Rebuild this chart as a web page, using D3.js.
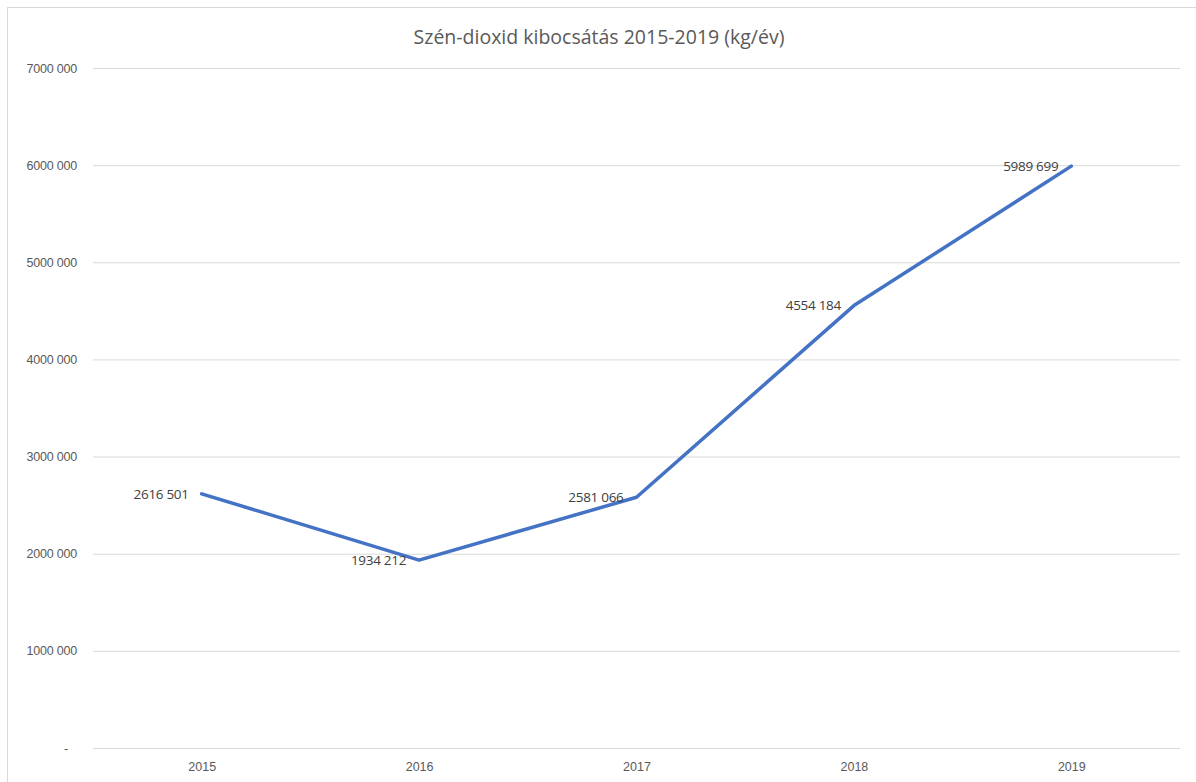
<!DOCTYPE html>
<html><head><meta charset="utf-8">
<script src="https://cdn.jsdelivr.net/npm/d3@7/dist/d3.min.js"></script>
<style>body{margin:0;background:#fff;} svg{display:block;font-family:"Open Sans",sans-serif;}</style>
</head><body>
<svg id="c" width="1196" height="782"></svg>
<script>
const years = ["2015","2016","2017","2018","2019"];
const emissions = [2616501, 1934212, 2581066, 4554184, 5989699];
const yTicks = [0,1000000,2000000,3000000,4000000,5000000,6000000,7000000];
const titleText = "Szén-dioxid kibocsátás 2015-2019 (kg/év)";

const svg = d3.select("#c");
const W=1196,H=782;
const m={l:93,r:1180,t:68,b:748};
svg.append("rect").attr("x",7.5).attr("y",7.5).attr("width",W).attr("height",H).attr("fill","#fff").attr("stroke","#d9d9d9");
const x=d3.scalePoint().domain(years).range([m.l,m.r]).padding(0.5);
const y=d3.scaleLinear().domain([0,7000000]).range([m.b,m.t]);
const fmtLab=v=>{const s=d3.format(",")(v).split(",");return s[0]+s[1]+" "+s[2];};

const ya=svg.append("g").attr("transform",`translate(${m.l},0)`)
 .call(d3.axisLeft(y).tickValues(yTicks).tickSize(-(m.r-m.l)).tickPadding(16).tickFormat(v=>v===0?"-":fmtLab(v)));
ya.select(".domain").remove();
ya.selectAll("line").attr("stroke","#d9d9d9");
ya.selectAll("text").attr("fill","#595959").style("font-size","12.5px").style("letter-spacing","-0.2px");
ya.selectAll(".tick").filter(d=>d===0).select("text").attr("dx",-9);

const xa=svg.append("g").attr("transform",`translate(0,${m.b})`)
 .call(d3.axisBottom(x).tickSize(0).tickPadding(14));
xa.select(".domain").remove();
xa.selectAll("text").attr("fill","#595959").style("font-size","12.5px");

svg.append("text").attr("x",599).attr("y",44).attr("text-anchor","middle").attr("fill","#595959").style("font-size","19.5px").text(titleText);

const line=d3.line().x((d,i)=>x(years[i])).y(d=>y(d));
svg.append("path").datum(emissions).attr("d",line).attr("fill","none").attr("stroke","#4472C4").attr("stroke-width",3.5).attr("stroke-linejoin","round").attr("stroke-linecap","round");

svg.selectAll(".lab").data(emissions).enter().append("text")
 .attr("x",(d,i)=>x(years[i])-13).attr("y",d=>y(d)).attr("dy","0.35em")
 .attr("text-anchor","end").attr("fill","#404040").style("font-size","13.5px").style("letter-spacing","-0.3px").text(d=>fmtLab(d));
</script></body></html>
